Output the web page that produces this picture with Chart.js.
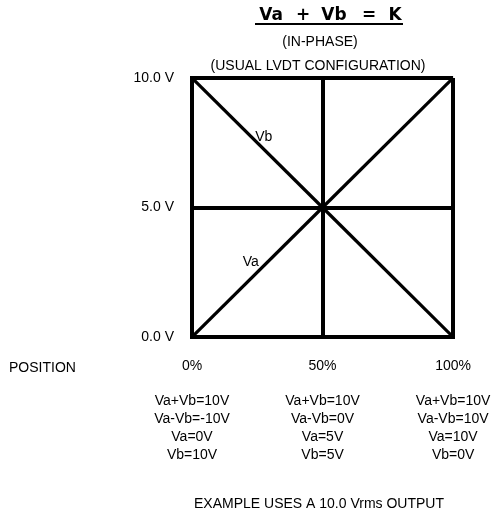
<!DOCTYPE html>
<html>
<head>
<meta charset="utf-8">
<script src="https://cdn.jsdelivr.net/npm/chart.js@4"></script>
<style>
  html, body { margin: 0; padding: 0; background: #fff; }
  #wrap { width: 492px; height: 517px; }
</style>
</head>
<body>
<div id="wrap"><canvas id="grafico" width="492" height="517"></canvas></div>
<script>
// Datos del gráfico
const posiciones = [0, 50, 100];          // % de posición
const valoresVa = [0, 5, 10];             // Va en cada posición (V)
const valoresVb = [10, 5, 0];             // Vb en cada posición (V)
const ticksY = [0, 5, 10];
const titulo = ['Va', '+', 'Vb', '=', 'K'];
const subtitulos = ['(IN-PHASE)', '(USUAL LVDT CONFIGURATION)'];
const pie = 'EXAMPLE USES A 10.0 Vrms OUTPUT';

const FUENTE = '"Liberation Sans", Arial, sans-serif';

// Plugin para textos fuera del área del gráfico
const textosExtra = {
  id: 'textosExtra',
  afterDraw(chart) {
    const ctx = chart.ctx;
    const x = chart.scales.x, y = chart.scales.y;
    ctx.save();
    ctx.fillStyle = '#000';
    ctx.textBaseline = 'middle';

    // título estilizado
    ctx.font = 'bold 17px "DejaVu Sans", sans-serif';
    ctx.textAlign = 'center';
    const posTitulo = [271, 303, 334, 369, 395];
    titulo.forEach((t, i) => ctx.fillText(t, posTitulo[i], 16));
    ctx.fillRect(255, 23, 148, 2);

    ctx.font = '14px ' + FUENTE;
    ctx.fillText(subtitulos[0], 320, 42);
    ctx.fillText(subtitulos[1], 318, 66);

    // etiquetas de las líneas
    ctx.fillText('Vb', x.getPixelForValue(27.5), y.getPixelForValue(7.7));
    ctx.fillText('Va', x.getPixelForValue(22.5), y.getPixelForValue(2.9));

    ctx.textAlign = 'left';
    ctx.fillText('POSITION', 9, 368);

    // tabla de valores bajo cada posición
    ctx.textAlign = 'center';
    posiciones.forEach((p, i) => {
      const va = valoresVa[i], vb = valoresVb[i];
      const lineas = [
        `Va+Vb=${va + vb}V`,
        `Va-Vb=${va - vb}V`,
        `Va=${va}V`,
        `Vb=${vb}V`
      ];
      const px = x.getPixelForValue(p);
      lineas.forEach((l, j) => ctx.fillText(l, px, 401 + j * 18));
    });

    ctx.fillText(pie, 319, 504);
    ctx.restore();
  }
};

const ctx = document.getElementById('grafico').getContext('2d');
const grafico = new Chart(ctx, {
  type: 'scatter',
  data: {
    datasets: [
      {
        label: 'Va',
        data: posiciones.map((p, i) => ({ x: p, y: valoresVa[i] })),
        showLine: true,
        borderColor: '#000',
        borderWidth: 3.2,
        pointRadius: 0
      },
      {
        label: 'Vb',
        data: posiciones.map((p, i) => ({ x: p, y: valoresVb[i] })),
        showLine: true,
        borderColor: '#000',
        borderWidth: 3.2,
        pointRadius: 0
      }
    ]
  },
  options: {
    responsive: false,
    animation: false,
    layout: { padding: { top: 78, right: 38, left: 0, bottom: 0 } },
    plugins: {
      legend: { display: false },
      tooltip: { enabled: false }
    },
    scales: {
      x: {
        type: 'linear',
        min: 0, max: 100,
        afterBuildTicks(s) { s.ticks = posiciones.map(v => ({ value: v })); },
        afterFit(s) { s.height = 180; },
        grid: { color: '#000', lineWidth: 4, drawTicks: false },
        border: { color: '#000', width: 4 },
        ticks: {
          padding: 21,
          color: '#000',
          font: { family: FUENTE, size: 14 },
          maxRotation: 0,
          callback: v => v + '%'
        }
      },
      y: {
        min: 0, max: 10,
        afterBuildTicks(s) { s.ticks = ticksY.map(v => ({ value: v })); },
        afterFit(s) { s.width = 192; },
        grid: { color: '#000', lineWidth: 4, drawTicks: false },
        border: { color: '#000', width: 4 },
        ticks: {
          padding: 18,
          color: '#000',
          font: { family: FUENTE, size: 14 },
          callback: v => v.toFixed(1) + ' V'
        }
      }
    }
  },
  plugins: [textosExtra]
});
</script>
</body>
</html>
